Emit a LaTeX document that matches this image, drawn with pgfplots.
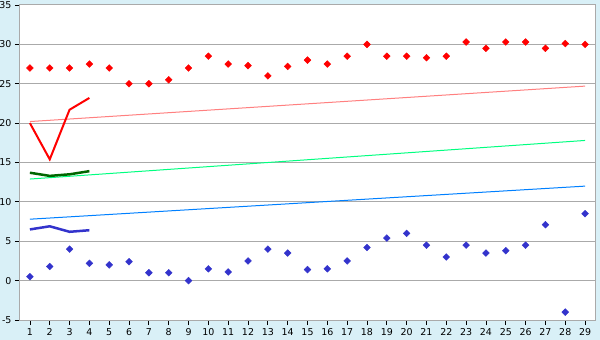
\documentclass[border=0pt]{standalone}
\usepackage{pgfplots}
\pgfplotsset{compat=1.18}
\usepackage{pgfplotstable}
\usepackage{fontspec}
\setmainfont{DejaVu Sans}
\definecolor{bgblue}{HTML}{D9F0F7}
\definecolor{gridgray}{HTML}{AAAAAA}
\definecolor{lowblue}{HTML}{3333CC}
\definecolor{darkgreen}{HTML}{006600}
\definecolor{trendgreen}{HTML}{00FF80}
\definecolor{trendblue}{HTML}{0080FF}
\definecolor{trendpink}{HTML}{FF8080}
\pgfplotstableread{
x hi lo
1 27 0.5
2 27 1.8
3 27 4
4 27.5 2.2
5 27 2
6 25 2.4
7 25 1
8 25.5 1
9 27 0
10 28.5 1.5
11 27.5 1.1
12 27.3 2.5
13 26 4
14 27.2 3.5
15 28 1.4
16 27.5 1.5
17 28.5 2.5
18 30 4.2
19 28.5 5.4
20 28.5 6
21 28.3 4.5
22 28.5 3
23 30.3 4.5
24 29.5 3.5
25 30.3 3.8
26 30.3 4.5
27 29.5 7.1
28 30.1 -4
29 30 8.5
}\daily
\pgfplotstableread{
x r g b
1 20 13.7 6.5
2 15.4 13.3 6.9
3 21.7 13.5 6.2
4 23.2 13.9 6.4
}\avg
\begin{document}
\begin{tikzpicture}
\fill[bgblue] (-20bp,-20bp) rectangle (580bp,320bp);
\useasboundingbox (-20bp,-20bp) rectangle (580bp,320bp);
\begin{axis}[at={(0,0)}, anchor=south west, scale only axis,
  width=575bp, height=315bp,
  xmin=0.5, xmax=29.5, ymin=-5, ymax=35,
  xtick={1,...,29}, ytick={-5,0,...,35},
  ymajorgrids, grid style={color=gridgray, line width=1bp},
  axis line style={color=gridgray, line width=1bp},
  axis background/.style={fill=white},
  tick align=outside, xtick pos=bottom, ytick pos=left,
  tick style={black, line width=0.8bp},
  major tick length=5bp,
  tick label style={font=\fontsize{9.5}{11}\selectfont, black},
  /pgf/number format/assume math mode=true,
  clip=false]
\addplot[trendpink, line width=1bp] coordinates {(1,20.2) (29,24.7)};
\addplot[trendgreen, line width=1bp] coordinates {(1,12.9) (29,17.8)};
\addplot[trendblue, line width=1bp] coordinates {(1,7.8) (29,12)};
\addplot[red, line width=2bp] table[x=x, y=r] {\avg};
\addplot[darkgreen, line width=2.5bp] table[x=x, y=g] {\avg};
\addplot[lowblue, line width=2.5bp] table[x=x, y=b] {\avg};
\addplot[only marks, mark=square*, mark size=2.4bp, mark options={rotate=45}, color=red] table[x=x, y=hi] {\daily};
\addplot[only marks, mark=square*, mark size=2.4bp, mark options={rotate=45}, color=lowblue] table[x=x, y=lo] {\daily};
\end{axis}
\end{tikzpicture}
\end{document}
